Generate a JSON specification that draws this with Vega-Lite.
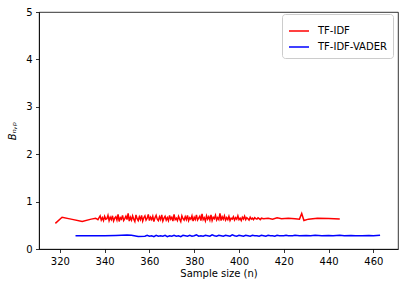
{
  "$schema": "https://vega.github.io/schema/vega-lite/v6.json",
  "width": 359,
  "height": 237,
  "autosize": "none",
  "padding": {"left": 39, "top": 12, "right": 9, "bottom": 41},
  "background": "white",
  "data": {"values": [
    {"s":"TF-IDF","n":318,"b":0.54},{"s":"TF-IDF","n":321,"b":0.67},{"s":"TF-IDF","n":325,"b":0.63},{"s":"TF-IDF","n":330,"b":0.58},{"s":"TF-IDF","n":334,"b":0.63},{"s":"TF-IDF","n":336,"b":0.65},{"s":"TF-IDF","n":337,"b":0.62},
    {"s":"TF-IDF","n":338,"b":0.70},{"s":"TF-IDF","n":338.5,"b":0.61},{"s":"TF-IDF","n":339,"b":0.66},{"s":"TF-IDF","n":339.5,"b":0.60},{"s":"TF-IDF","n":340,"b":0.69},{"s":"TF-IDF","n":340.5,"b":0.63},{"s":"TF-IDF","n":341,"b":0.64},{"s":"TF-IDF","n":341.5,"b":0.71},{"s":"TF-IDF","n":342,"b":0.60},{"s":"TF-IDF","n":342.5,"b":0.67},
    {"s":"TF-IDF","n":343,"b":0.62},{"s":"TF-IDF","n":343.5,"b":0.70},{"s":"TF-IDF","n":344,"b":0.59},{"s":"TF-IDF","n":344.5,"b":0.65},{"s":"TF-IDF","n":345,"b":0.68},{"s":"TF-IDF","n":345.5,"b":0.61},{"s":"TF-IDF","n":346,"b":0.73},{"s":"TF-IDF","n":346.5,"b":0.58},{"s":"TF-IDF","n":347,"b":0.66},{"s":"TF-IDF","n":347.5,"b":0.63},
    {"s":"TF-IDF","n":348,"b":0.71},{"s":"TF-IDF","n":348.5,"b":0.60},{"s":"TF-IDF","n":349,"b":0.64},{"s":"TF-IDF","n":349.5,"b":0.69},{"s":"TF-IDF","n":350,"b":0.62},{"s":"TF-IDF","n":350.5,"b":0.75},{"s":"TF-IDF","n":351,"b":0.59},{"s":"TF-IDF","n":351.5,"b":0.67},{"s":"TF-IDF","n":352,"b":0.61},{"s":"TF-IDF","n":352.5,"b":0.70},
    {"s":"TF-IDF","n":353,"b":0.63},{"s":"TF-IDF","n":353.5,"b":0.58},{"s":"TF-IDF","n":354,"b":0.72},{"s":"TF-IDF","n":354.5,"b":0.64},{"s":"TF-IDF","n":355,"b":0.60},{"s":"TF-IDF","n":355.5,"b":0.68},{"s":"TF-IDF","n":356,"b":0.62},{"s":"TF-IDF","n":356.5,"b":0.71},{"s":"TF-IDF","n":357,"b":0.59},{"s":"TF-IDF","n":357.5,"b":0.66},
    {"s":"TF-IDF","n":358,"b":0.70},{"s":"TF-IDF","n":358.5,"b":0.61},{"s":"TF-IDF","n":359,"b":0.65},{"s":"TF-IDF","n":359.5,"b":0.73},{"s":"TF-IDF","n":360,"b":0.60},{"s":"TF-IDF","n":360.5,"b":0.67},{"s":"TF-IDF","n":361,"b":0.62},{"s":"TF-IDF","n":361.5,"b":0.69},{"s":"TF-IDF","n":362,"b":0.58},{"s":"TF-IDF","n":362.5,"b":0.66},
    {"s":"TF-IDF","n":363,"b":0.71},{"s":"TF-IDF","n":363.5,"b":0.63},{"s":"TF-IDF","n":364,"b":0.60},{"s":"TF-IDF","n":364.5,"b":0.68},{"s":"TF-IDF","n":365,"b":0.62},{"s":"TF-IDF","n":365.5,"b":0.72},{"s":"TF-IDF","n":366,"b":0.59},{"s":"TF-IDF","n":366.5,"b":0.65},{"s":"TF-IDF","n":367,"b":0.69},{"s":"TF-IDF","n":367.5,"b":0.61},
    {"s":"TF-IDF","n":368,"b":0.66},{"s":"TF-IDF","n":368.5,"b":0.60},{"s":"TF-IDF","n":369,"b":0.71},{"s":"TF-IDF","n":369.5,"b":0.63},{"s":"TF-IDF","n":370,"b":0.67},{"s":"TF-IDF","n":370.5,"b":0.59},{"s":"TF-IDF","n":371,"b":0.73},{"s":"TF-IDF","n":371.5,"b":0.62},{"s":"TF-IDF","n":372,"b":0.65},{"s":"TF-IDF","n":372.5,"b":0.60},
    {"s":"TF-IDF","n":373,"b":0.69},{"s":"TF-IDF","n":373.5,"b":0.63},{"s":"TF-IDF","n":374,"b":0.58},{"s":"TF-IDF","n":374.5,"b":0.70},{"s":"TF-IDF","n":375,"b":0.64},{"s":"TF-IDF","n":375.5,"b":0.61},{"s":"TF-IDF","n":376,"b":0.68},{"s":"TF-IDF","n":376.5,"b":0.62},{"s":"TF-IDF","n":377,"b":0.71},{"s":"TF-IDF","n":377.5,"b":0.60},
    {"s":"TF-IDF","n":378,"b":0.66},{"s":"TF-IDF","n":378.5,"b":0.63},{"s":"TF-IDF","n":379,"b":0.70},{"s":"TF-IDF","n":379.5,"b":0.59},{"s":"TF-IDF","n":380,"b":0.67},{"s":"TF-IDF","n":380.5,"b":0.62},{"s":"TF-IDF","n":381,"b":0.72},{"s":"TF-IDF","n":381.5,"b":0.61},{"s":"TF-IDF","n":382,"b":0.65},{"s":"TF-IDF","n":382.5,"b":0.69},
    {"s":"TF-IDF","n":383,"b":0.60},{"s":"TF-IDF","n":383.5,"b":0.74},{"s":"TF-IDF","n":384,"b":0.62},{"s":"TF-IDF","n":384.5,"b":0.66},{"s":"TF-IDF","n":385,"b":0.59},{"s":"TF-IDF","n":385.5,"b":0.70},{"s":"TF-IDF","n":386,"b":0.63},{"s":"TF-IDF","n":386.5,"b":0.68},{"s":"TF-IDF","n":387,"b":0.61},{"s":"TF-IDF","n":387.5,"b":0.72},
    {"s":"TF-IDF","n":388,"b":0.60},{"s":"TF-IDF","n":388.5,"b":0.67},{"s":"TF-IDF","n":389,"b":0.64},{"s":"TF-IDF","n":389.5,"b":0.71},{"s":"TF-IDF","n":390,"b":0.61},{"s":"TF-IDF","n":390.5,"b":0.66},{"s":"TF-IDF","n":391,"b":0.62},{"s":"TF-IDF","n":391.5,"b":0.75},{"s":"TF-IDF","n":392,"b":0.60},{"s":"TF-IDF","n":392.5,"b":0.68},
    {"s":"TF-IDF","n":393,"b":0.63},{"s":"TF-IDF","n":393.5,"b":0.70},{"s":"TF-IDF","n":394,"b":0.61},{"s":"TF-IDF","n":394.5,"b":0.66},{"s":"TF-IDF","n":395,"b":0.62},{"s":"TF-IDF","n":395.5,"b":0.69},{"s":"TF-IDF","n":396,"b":0.60},{"s":"TF-IDF","n":396.5,"b":0.65},{"s":"TF-IDF","n":397,"b":0.63},{"s":"TF-IDF","n":397.5,"b":0.68},
    {"s":"TF-IDF","n":398,"b":0.61},{"s":"TF-IDF","n":398.5,"b":0.66},{"s":"TF-IDF","n":399,"b":0.63},{"s":"TF-IDF","n":399.5,"b":0.70},{"s":"TF-IDF","n":400,"b":0.62},{"s":"TF-IDF","n":400.5,"b":0.65},{"s":"TF-IDF","n":401,"b":0.60},{"s":"TF-IDF","n":401.5,"b":0.67},{"s":"TF-IDF","n":402,"b":0.63},{"s":"TF-IDF","n":402.5,"b":0.69},
    {"s":"TF-IDF","n":403,"b":0.62},{"s":"TF-IDF","n":403.5,"b":0.66},{"s":"TF-IDF","n":404,"b":0.64},{"s":"TF-IDF","n":404.5,"b":0.61},{"s":"TF-IDF","n":405,"b":0.67},{"s":"TF-IDF","n":405.5,"b":0.63},{"s":"TF-IDF","n":406,"b":0.65},{"s":"TF-IDF","n":406.5,"b":0.62},{"s":"TF-IDF","n":407,"b":0.66},{"s":"TF-IDF","n":407.5,"b":0.64},
    {"s":"TF-IDF","n":408,"b":0.63},{"s":"TF-IDF","n":408.5,"b":0.66},{"s":"TF-IDF","n":409,"b":0.64},{"s":"TF-IDF","n":409.5,"b":0.62},{"s":"TF-IDF","n":410,"b":0.65},
    {"s":"TF-IDF","n":411,"b":0.64},{"s":"TF-IDF","n":413,"b":0.65},{"s":"TF-IDF","n":415,"b":0.63},{"s":"TF-IDF","n":417,"b":0.66},{"s":"TF-IDF","n":419,"b":0.64},{"s":"TF-IDF","n":422,"b":0.65},{"s":"TF-IDF","n":425,"b":0.64},{"s":"TF-IDF","n":427,"b":0.63},{"s":"TF-IDF","n":428,"b":0.75},{"s":"TF-IDF","n":429,"b":0.60},
    {"s":"TF-IDF","n":431,"b":0.63},{"s":"TF-IDF","n":435,"b":0.65},{"s":"TF-IDF","n":440,"b":0.645},{"s":"TF-IDF","n":445,"b":0.635},
    {"s":"TF-IDF-VADER","n":327,"b":0.28},{"s":"TF-IDF-VADER","n":335,"b":0.28},{"s":"TF-IDF-VADER","n":340,"b":0.28},{"s":"TF-IDF-VADER","n":345,"b":0.285},{"s":"TF-IDF-VADER","n":350,"b":0.295},{"s":"TF-IDF-VADER","n":352,"b":0.29},{"s":"TF-IDF-VADER","n":355,"b":0.265},{"s":"TF-IDF-VADER","n":358,"b":0.27},
    {"s":"TF-IDF-VADER","n":359,"b":0.29},{"s":"TF-IDF-VADER","n":360,"b":0.27},{"s":"TF-IDF-VADER","n":361,"b":0.28},{"s":"TF-IDF-VADER","n":362,"b":0.26},{"s":"TF-IDF-VADER","n":363,"b":0.29},{"s":"TF-IDF-VADER","n":364,"b":0.27},{"s":"TF-IDF-VADER","n":365,"b":0.28},{"s":"TF-IDF-VADER","n":366,"b":0.27},
    {"s":"TF-IDF-VADER","n":367,"b":0.29},{"s":"TF-IDF-VADER","n":368,"b":0.26},{"s":"TF-IDF-VADER","n":369,"b":0.28},{"s":"TF-IDF-VADER","n":370,"b":0.27},{"s":"TF-IDF-VADER","n":371,"b":0.29},{"s":"TF-IDF-VADER","n":372,"b":0.27},{"s":"TF-IDF-VADER","n":373,"b":0.28},{"s":"TF-IDF-VADER","n":374,"b":0.26},
    {"s":"TF-IDF-VADER","n":375,"b":0.29},{"s":"TF-IDF-VADER","n":376,"b":0.28},{"s":"TF-IDF-VADER","n":377,"b":0.27},{"s":"TF-IDF-VADER","n":378,"b":0.29},{"s":"TF-IDF-VADER","n":379,"b":0.27},{"s":"TF-IDF-VADER","n":380,"b":0.28},{"s":"TF-IDF-VADER","n":381,"b":0.30},{"s":"TF-IDF-VADER","n":382,"b":0.27},
    {"s":"TF-IDF-VADER","n":383,"b":0.28},{"s":"TF-IDF-VADER","n":384,"b":0.27},{"s":"TF-IDF-VADER","n":385,"b":0.29},{"s":"TF-IDF-VADER","n":386,"b":0.28},{"s":"TF-IDF-VADER","n":387,"b":0.27},{"s":"TF-IDF-VADER","n":388,"b":0.30},{"s":"TF-IDF-VADER","n":389,"b":0.28},{"s":"TF-IDF-VADER","n":390,"b":0.27},
    {"s":"TF-IDF-VADER","n":391,"b":0.29},{"s":"TF-IDF-VADER","n":392,"b":0.28},{"s":"TF-IDF-VADER","n":393,"b":0.27},{"s":"TF-IDF-VADER","n":394,"b":0.29},{"s":"TF-IDF-VADER","n":395,"b":0.28},{"s":"TF-IDF-VADER","n":396,"b":0.27},{"s":"TF-IDF-VADER","n":397,"b":0.30},{"s":"TF-IDF-VADER","n":398,"b":0.28},
    {"s":"TF-IDF-VADER","n":399,"b":0.27},{"s":"TF-IDF-VADER","n":400,"b":0.29},{"s":"TF-IDF-VADER","n":401,"b":0.28},{"s":"TF-IDF-VADER","n":402,"b":0.27},{"s":"TF-IDF-VADER","n":403,"b":0.29},{"s":"TF-IDF-VADER","n":404,"b":0.28},{"s":"TF-IDF-VADER","n":405,"b":0.27},{"s":"TF-IDF-VADER","n":406,"b":0.29},
    {"s":"TF-IDF-VADER","n":407,"b":0.28},{"s":"TF-IDF-VADER","n":408,"b":0.28},{"s":"TF-IDF-VADER","n":409,"b":0.27},{"s":"TF-IDF-VADER","n":410,"b":0.29},{"s":"TF-IDF-VADER","n":411,"b":0.28},{"s":"TF-IDF-VADER","n":412,"b":0.27},{"s":"TF-IDF-VADER","n":413,"b":0.29},{"s":"TF-IDF-VADER","n":414,"b":0.28},
    {"s":"TF-IDF-VADER","n":415,"b":0.28},{"s":"TF-IDF-VADER","n":416,"b":0.27},{"s":"TF-IDF-VADER","n":417,"b":0.29},{"s":"TF-IDF-VADER","n":418,"b":0.28},{"s":"TF-IDF-VADER","n":420,"b":0.28},{"s":"TF-IDF-VADER","n":421,"b":0.29},{"s":"TF-IDF-VADER","n":422,"b":0.28},{"s":"TF-IDF-VADER","n":424,"b":0.28},
    {"s":"TF-IDF-VADER","n":425,"b":0.29},{"s":"TF-IDF-VADER","n":427,"b":0.28},{"s":"TF-IDF-VADER","n":430,"b":0.285},{"s":"TF-IDF-VADER","n":432,"b":0.28},{"s":"TF-IDF-VADER","n":434,"b":0.29},{"s":"TF-IDF-VADER","n":437,"b":0.28},{"s":"TF-IDF-VADER","n":440,"b":0.285},{"s":"TF-IDF-VADER","n":442,"b":0.28},
    {"s":"TF-IDF-VADER","n":445,"b":0.29},{"s":"TF-IDF-VADER","n":447,"b":0.28},{"s":"TF-IDF-VADER","n":450,"b":0.285},{"s":"TF-IDF-VADER","n":452,"b":0.28},{"s":"TF-IDF-VADER","n":455,"b":0.28},{"s":"TF-IDF-VADER","n":458,"b":0.285},{"s":"TF-IDF-VADER","n":460,"b":0.28},{"s":"TF-IDF-VADER","n":463,"b":0.29}
  ]},
  "mark": {"type": "line", "strokeWidth": 1.5, "clip": true},
  "encoding": {
    "x": {"field": "n", "type": "quantitative",
      "scale": {"domain": [310.7, 471], "nice": false, "zero": false},
      "axis": {"values": [320, 340, 360, 380, 400, 420, 440, 460], "title": "Sample size (n)", "titlePadding": 2}},
    "y": {"field": "b", "type": "quantitative",
      "scale": {"domain": [0, 5], "nice": false},
      "axis": {"values": [0, 1, 2, 3, 4, 5], "title": "Bₙ,ₚ", "titleFontStyle": "italic", "titlePadding": 8}},
    "color": {"field": "s", "type": "nominal",
      "scale": {"domain": ["TF-IDF", "TF-IDF-VADER"], "range": ["#ff0000", "#0000ff"]},
      "legend": {"title": null, "orient": "none", "legendX": 243, "legendY": 2,
        "symbolType": "stroke", "symbolSize": 400, "symbolStrokeWidth": 1.5,
        "labelFont": "DejaVu Sans", "labelFontSize": 10, "labelColor": "black",
        "fillColor": "white", "strokeColor": "#cccccc", "cornerRadius": 3, "padding": 6, "rowPadding": 0, "labelOffset": 8}},
    "order": {"field": "n", "type": "quantitative"}
  },
  "config": {
    "view": {"stroke": "black", "strokeWidth": 0.8},
    "axis": {"domainColor": "black", "tickColor": "black", "labelColor": "black", "titleColor": "black",
      "labelFont": "DejaVu Sans", "titleFont": "DejaVu Sans", "labelFontSize": 10, "titleFontSize": 10,
      "titleFontWeight": "normal", "grid": false, "tickSize": 3.5, "domainWidth": 0.8, "tickWidth": 0.8, "labelPadding": 3.5}
  }
}
